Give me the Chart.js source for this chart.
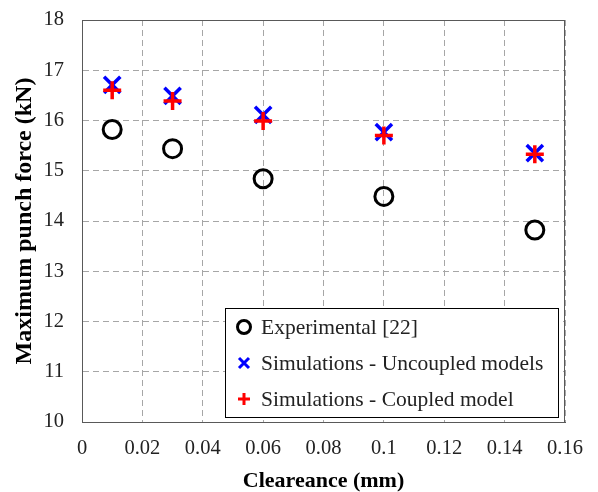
<!DOCTYPE html>
<html>
<head>
<meta charset="utf-8">
<script src="https://cdn.jsdelivr.net/npm/chart.js@4.4.1/dist/chart.umd.min.js"></script>
<style>
  html, body { margin: 0; padding: 0; background: #fff; }
  #wrap { width: 598px; height: 492px; position: relative; }
</style>
</head>
<body>
<div id="wrap"><canvas id="chart"></canvas></div>
<script>
// Clearance values (mm)
const clearance = [0.01, 0.03, 0.06, 0.10, 0.15];
// Maximum punch force (kN)
const experimental = [15.82, 15.44, 14.84, 14.49, 13.82];
const uncoupled = [16.71, 16.49, 16.11, 15.77, 15.35];
const coupled = [16.60, 16.39, 15.99, 15.70, 15.33];

const seriesLabels = ['Experimental [22]', 'Simulations - Uncoupled models', 'Simulations - Coupled model'];

const toPoints = vals => vals.map((v, i) => ({ x: clearance[i], y: v }));

const serif = "'Liberation Serif', 'Times New Roman', serif";

// legend drawn inside the plot, bottom right
const insideLegend = {
    id: 'insideLegend',
    afterDraw(chart) {
        const ctx = chart.ctx;
        const area = chart.chartArea;
        const boxR = area.right - 7;
        const boxB = area.bottom - 5;
        const boxW = 333, boxH = 109;
        const boxL = boxR - boxW, boxT = boxB - boxH;
        ctx.save();
        ctx.fillStyle = '#fff';
        ctx.fillRect(boxL, boxT, boxW, boxH);
        ctx.strokeStyle = '#000';
        ctx.lineWidth = 1;
        ctx.strokeRect(boxL + 0.5, boxT + 0.5, boxW, boxH);
        ctx.font = '21.5px ' + serif;
        ctx.textBaseline = 'middle';
        chart.data.datasets.forEach((ds, i) => {
            const y = boxT + 19 + i * 36;
            const x = boxL + 19;
            ctx.strokeStyle = ds.borderColor;
            ctx.fillStyle = '#fff';
            ctx.lineWidth = 3;
            ctx.beginPath();
            if (ds.pointStyle === 'circle') {
                ctx.arc(x, y, 6.5, 0, Math.PI * 2);
                ctx.fill();
                ctx.stroke();
            } else if (ds.pointStyle === 'crossRot') {
                ctx.moveTo(x - 5, y - 5); ctx.lineTo(x + 5, y + 5);
                ctx.moveTo(x + 5, y - 5); ctx.lineTo(x - 5, y + 5);
                ctx.stroke();
            } else {
                ctx.moveTo(x - 6, y); ctx.lineTo(x + 6, y);
                ctx.moveTo(x, y - 6); ctx.lineTo(x, y + 6);
                ctx.stroke();
            }
            ctx.fillStyle = '#222';
            ctx.fillText(seriesLabels[i], boxL + 36, y + 1);
        });
        ctx.restore();
    }
};

new Chart(document.getElementById('chart').getContext('2d'), {
    type: 'scatter',
    data: {
        datasets: [
            {
                label: seriesLabels[0],
                data: toPoints(experimental),
                pointStyle: 'circle',
                pointRadius: 9,
                pointBorderWidth: 3,
                borderColor: '#000',
                backgroundColor: 'rgba(255,255,255,0)',
                order: 3
            },
            {
                label: seriesLabels[1],
                data: toPoints(uncoupled),
                pointStyle: 'crossRot',
                pointRadius: 11.5,
                pointBorderWidth: 3.5,
                borderColor: '#0000ff',
                backgroundColor: '#0000ff',
                order: 2
            },
            {
                label: seriesLabels[2],
                data: toPoints(coupled),
                pointStyle: 'cross',
                pointRadius: 9,
                pointBorderWidth: 3.5,
                borderColor: '#ff0000',
                backgroundColor: '#ff0000',
                order: 1
            }
        ]
    },
    options: {
        responsive: true,
        maintainAspectRatio: false,
        animation: false,
        layout: { padding: { top: 20, right: 33, left: 0, bottom: 0 } },
        plugins: {
            legend: { display: false },
            tooltip: { enabled: false }
        },
        scales: {
            x: {
                type: 'linear',
                min: 0,
                max: 0.16,
                ticks: {
                    stepSize: 0.02,
                    color: '#222',
                    font: { family: serif, size: 20.5 },
                    padding: 14,
                    callback: v => String(Math.round(v * 100) / 100)
                },
                grid: { color: '#a6a6a6', lineWidth: 1, drawTicks: false },
                border: { display: true, color: '#595959', width: 1, dash: [6, 4] },
                title: {
                    display: true,
                    text: 'Cleareance (mm)',
                    color: '#000',
                    font: { family: serif, size: 22, weight: 'bold', lineHeight: 1 },
                    padding: { top: 0, bottom: 0 }
                },
                afterFit: s => {
                    s.height = 70;
                    s.paddingLeft = 0;
                    s.paddingRight = 0;
                }
            },
            y: {
                min: 10,
                max: 18,
                ticks: {
                    stepSize: 1,
                    color: '#222',
                    font: { family: serif, size: 20.5 },
                    padding: 18
                },
                grid: { color: '#a6a6a6', lineWidth: 1, drawTicks: false },
                border: { display: true, color: '#595959', width: 1, dash: [6, 4] },
                title: {
                    display: true,
                    text: 'Maximum punch force (kN)',
                    color: '#000',
                    font: { family: serif, size: 24, weight: 'bold' },
                    padding: { top: 10, bottom: 0 }
                },
                afterFit: s => {
                    s.width = 82;
                    s.paddingTop = 0;
                    s.paddingBottom = 0;
                }
            }
        }
    },
    plugins: [{
        id: 'frame',
        beforeDatasetsDraw(chart) {
            const a = chart.chartArea, ctx = chart.ctx;
            ctx.save();
            ctx.strokeStyle = '#595959';
            ctx.lineWidth = 1;
            ctx.strokeRect(Math.round(a.left) + 0.5, Math.round(a.top) + 0.5,
                Math.round(a.right - a.left) - 1, Math.round(a.bottom - a.top));
            ctx.restore();
        }
    }, insideLegend]
});
</script>
</body>
</html>
